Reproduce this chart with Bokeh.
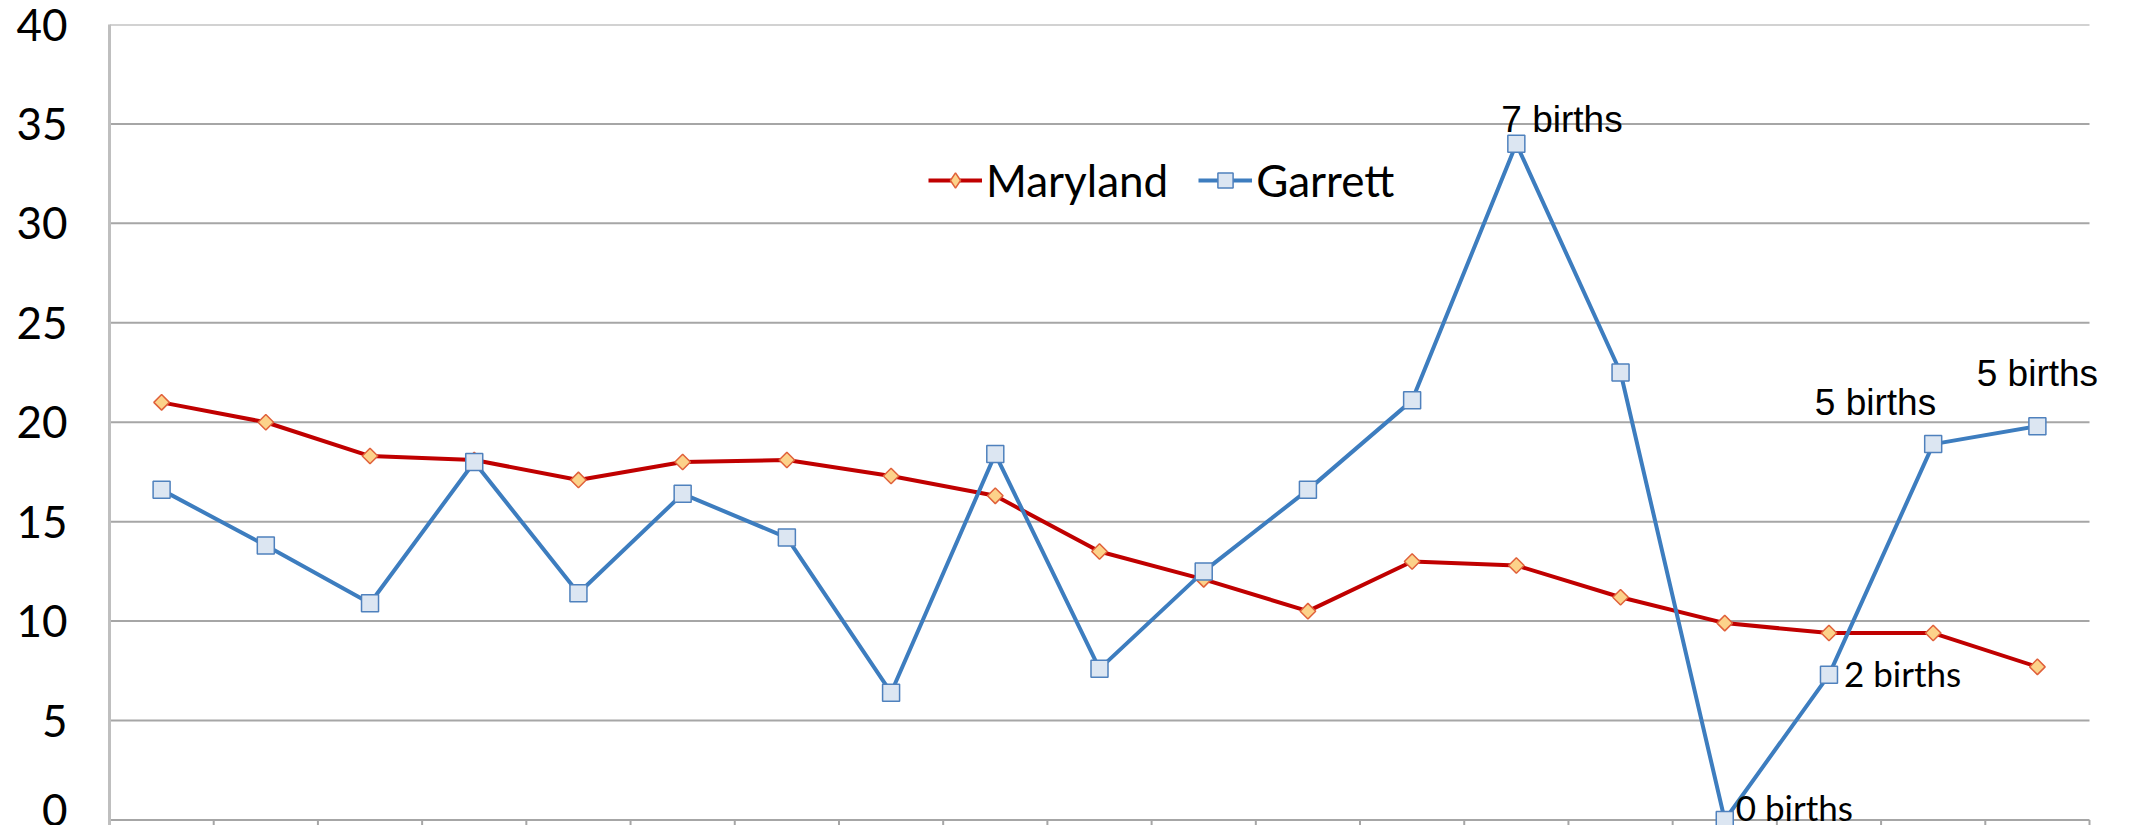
import numpy as np
from bokeh.plotting import figure
from bokeh.models import Range1d, FixedTicker, Legend, LegendItem, Label
from bokeh.embed import file_html
from bokeh.resources import INLINE

# ---- data ----
categories = list(range(1, 20))
maryland = [21.0, 20.0, 18.3, 18.1, 17.1, 18.0, 18.1, 17.3, 16.3, 13.5,
            12.1, 10.5, 13.0, 12.8, 11.2, 9.9, 9.4, 9.4, 7.7]
garrett = [16.6, 13.8, 10.9, 18.0, 11.4, 16.4, 14.2, 6.4, 18.4, 7.6,
           12.5, 16.6, 21.1, 34.0, 22.5, 0.0, 7.3, 18.9, 19.8]
y_ticks = [0, 5, 10, 15, 20, 25, 30, 35, 40]
# annotations on Garrett points: (category, text)
notes = [(14, "7 births"), (16, "0 births"), (17, "2 births"), (18, "5 births"), (19, "5 births")]

n = len(categories)
x_lo, x_hi = 0.5, n + 0.5
# frame reaches the right edge so the last note is not clipped; grid drawn only over categories
extra = 34 / (1980 / n)

p = figure(width=2123, height=825, output_backend="svg", toolbar_location=None,
           x_range=Range1d(x_lo, x_hi + extra), y_range=Range1d(-0.277, 40),
           min_border_left=109, min_border_right=0, min_border_top=24, min_border_bottom=0)
p.outline_line_color = None
p.background_fill_color = "white"
p.xaxis.visible = False
p.xgrid.visible = False
p.ygrid.visible = False

p.yaxis.ticker = FixedTicker(ticks=y_ticks)
p.yaxis.axis_line_color = "#BFBFBF"
p.yaxis.axis_line_width = 3
p.yaxis.major_tick_line_color = None
p.yaxis.minor_tick_line_color = None
p.yaxis.major_label_text_font = "Lato"
p.yaxis.major_label_text_font_size = "44px"
p.yaxis.major_label_text_color = "#000000"
p.yaxis.major_label_standoff = 36

# horizontal grid lines over the category span
p.segment(x0=[x_lo] * len(y_ticks), y0=y_ticks, x1=[x_hi] * len(y_ticks), y1=y_ticks,
          line_color="#A6A6A6", line_width=2)
# category boundary tick marks below the zero line
bounds = np.arange(n + 1) + 0.5
p.segment(x0=bounds, y0=[-1] * len(bounds), x1=bounds, y1=[0] * len(bounds),
          line_color="#A6A6A6", line_width=2)

md_line = p.line(categories, maryland, line_color="#C00000", line_width=4)
md_pts = p.scatter(categories, maryland, marker="square", angle=np.pi / 4, size=11,
                   fill_color="#FCD28A", line_color="#E0603A", line_width=1.5)
ga_line = p.line(categories, garrett, line_color="#3D7DBF", line_width=4)
ga_pts = p.scatter(categories, garrett, marker="square", size=17,
                   fill_color="#DCE6F2", line_color="#4F81BD", line_width=1.5)
# legend-only diamond (legend swatches ignore marker angle); NaN point is never drawn
md_leg = p.scatter(x=[np.nan], y=[np.nan], marker="diamond", size=23,
                   fill_color="#FCD28A", line_color="#E0603A", line_width=1.5)

style = {
    14: dict(x_offset=-15, y_offset=24, align="left", font="Liberation Sans", size="37px"),
    16: dict(x_offset=11, y_offset=13, align="left", font="Lato", size="35px"),
    17: dict(x_offset=15, y_offset=2, align="left", font="Lato", size="35px"),
    18: dict(x_offset=3, y_offset=42, align="right", font="Liberation Sans", size="37px"),
    19: dict(x_offset=0, y_offset=53, align="center", font="Liberation Sans", size="37px"),
}
for cat, txt in notes:
    s = style[cat]
    yv = garrett[categories.index(cat)]
    p.add_layout(Label(x=cat, y=yv, text=txt, x_offset=s["x_offset"], y_offset=s["y_offset"],
                       text_align=s["align"], text_baseline="middle",
                       text_font=s["font"], text_font_size=s["size"], text_color="#000000"))

legend = Legend(items=[LegendItem(label="Maryland", renderers=[md_line, md_leg]),
                       LegendItem(label="Garrett", renderers=[ga_line, ga_pts])],
                orientation="horizontal", location=(819, 619))
legend.label_text_font = "Lato"
legend.label_text_font_size = "44px"
legend.label_text_color = "#000000"
legend.glyph_width = 54
legend.glyph_height = 38
legend.spacing = 30
legend.label_standoff = 4
legend.padding = 0
legend.margin = 0
legend.border_line_color = None
legend.background_fill_alpha = 0
p.add_layout(legend)

open("out.html", "w").write(file_html(p, INLINE))
